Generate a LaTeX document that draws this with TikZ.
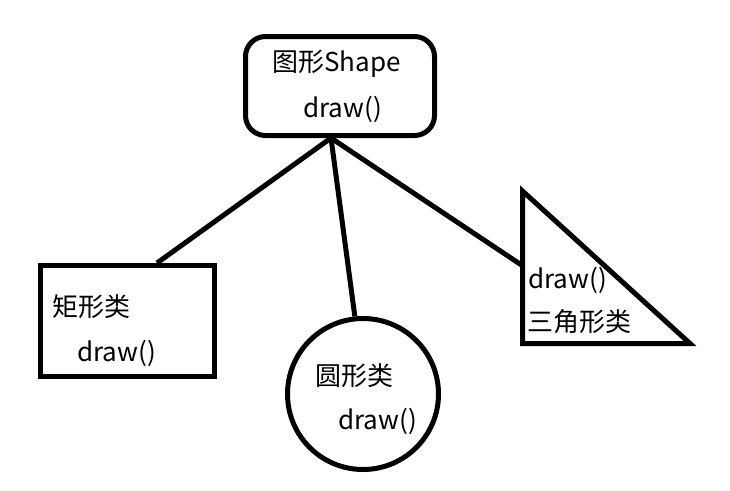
\documentclass[tikz,border=0pt]{standalone}
\usepackage{fontspec}
\setmainfont{Noto Sans CJK SC}
\usetikzlibrary{calc}
\tikzset{
  shp/.style={draw=black, line width=5pt, inner sep=0pt, fill=white},
  conn/.style={draw=black, line width=5pt},
  lbl/.style={anchor=west, inner sep=0pt, font=\fontsize{26}{30}\selectfont}
}
\begin{document}
\begin{tikzpicture}[x=1pt,y=-1pt]
\useasboundingbox (0,0) rectangle (730,490);
% top box
\node[shp, rounded corners=20pt, minimum width=189pt, minimum height=99pt] (base) at (340,86) {};
\node[lbl] (t1) at (272,64) {图形Shape};
\node[lbl] (t2) at (303,109) {draw()};
% rectangle
\node[shp, minimum width=174pt, minimum height=111pt] (rect) at (127.5,321) {};
\node[lbl] (r1) at (52,307) {矩形类};
\node[lbl] (r2) at (77,353) {draw()};
% circle
\node[shp, circle, minimum size=151pt] (circ) at (363,394) {};
\node[lbl] (c1) at (315,376) {圆形类};
\node[lbl] (c2) at (338,421) {draw()};
% triangle
\coordinate (ta) at (522.5,191);
\coordinate (tb) at (522.5,343.5);
\coordinate (tc) at (690,343.5);
\draw[line width=5pt, line join=miter, fill=white] (ta) -- (tb) -- (tc) -- cycle;
\node[lbl] (d1) at (528,280) {draw()};
\node[lbl] (d2) at (527,322) {三角形类};
% connectors
\coordinate (hub) at (331,138);
\draw[conn] (hub) -- ($(rect.north west)!0.665!(rect.north east)$);
\draw[conn] (hub) -- (circ.96);
\draw[conn] (hub) -- ($(ta)!0.49!(tb)$);
\end{tikzpicture}
\end{document}
